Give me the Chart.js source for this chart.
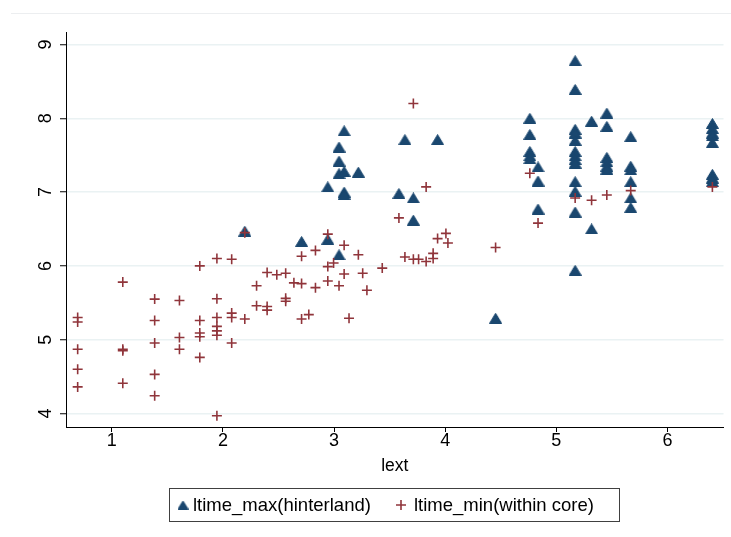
<!DOCTYPE html>
<html><head><meta charset="utf-8">
<script src="https://cdn.jsdelivr.net/npm/chart.js@4/dist/chart.umd.min.js"></script>
<style>html,body{margin:0;padding:0;background:#fff}canvas{display:block}</style>
</head><body>
<canvas id="c" width="731" height="537"></canvas>
<script>
const xTicks = [1, 2, 3, 4, 5, 6];
const yTicks = [4, 5, 6, 7, 8, 9];
const seriesNames = ['ltime_max(hinterland)', 'ltime_min(within core)'];
const xTitle = 'lext';

const hinterlandX = [2.197, 2.708, 2.944, 3.045, 2.944, 3.091, 3.045, 3.045, 3.045, 3.091, 3.219, 3.091, 3.091,
  3.584, 3.638, 3.714, 3.714, 3.932, 4.454,
  4.762, 4.762, 4.762, 4.762, 4.762, 4.836, 4.836, 4.836,
  5.170, 5.170, 5.170, 5.170, 5.170, 5.170, 5.170, 5.170, 5.170, 5.170, 5.170, 5.170, 5.170,
  5.318, 5.318, 5.455, 5.455, 5.455, 5.455, 5.455, 5.455,
  5.670, 5.670, 5.670, 5.670, 5.670, 5.670,
  6.405, 6.405, 6.405, 6.405, 6.405, 6.405, 6.405, 6.405];
const hinterlandY = [6.47, 6.33, 6.36, 6.15, 7.07, 7.83, 7.61, 7.42, 7.25, 7.28, 7.27, 7.00, 6.97,
  6.98, 7.71, 6.92, 6.62, 7.71, 5.29,
  8.00, 7.78, 7.55, 7.49, 7.45, 7.34, 7.15, 6.77,
  8.78, 8.39, 7.85, 7.80, 7.70, 7.55, 7.49, 7.44, 7.39, 7.14, 7.01, 6.73, 5.94,
  7.96, 6.50, 8.07, 7.89, 7.47, 7.41, 7.35, 7.31,
  7.75, 7.35, 7.30, 7.14, 6.92, 6.79,
  7.93, 7.86, 7.80, 7.76, 7.67, 7.24, 7.19, 7.14];

const coreX = [0.693, 0.693, 0.693, 0.693, 0.693,
  1.099, 1.099, 1.099, 1.099,
  1.386, 1.386, 1.386, 1.386, 1.386,
  1.609, 1.609, 1.609,
  1.792, 1.792, 1.792, 1.792, 1.792,
  1.946, 1.946, 1.946, 1.946, 1.946, 1.946, 1.946,
  2.079, 2.079, 2.079, 2.079,
  2.197, 2.197, 2.303, 2.303, 2.398, 2.398, 2.398, 2.485,
  2.565, 2.565, 2.565, 2.639, 2.708, 2.708, 2.708, 2.773, 2.833, 2.833,
  2.944, 2.944, 2.944, 2.996, 3.045, 3.091, 3.091, 3.135, 3.219, 3.258, 3.296, 3.434,
  3.584, 3.638, 3.714, 3.714, 3.761, 3.829, 3.829, 3.892, 3.892, 3.932, 4.007, 4.025,
  4.454, 4.762, 4.836, 5.170, 5.318, 5.455, 5.670, 6.405];
const coreY = [5.30, 5.24, 4.87, 4.60, 4.36,
  5.78, 4.87, 4.85, 4.41,
  5.55, 5.26, 4.955, 4.53, 4.24,
  5.53, 5.03, 4.87,
  6.00, 5.26, 5.09, 5.04, 4.76,
  6.10, 5.555, 5.30, 5.18, 5.12, 5.06, 3.97,
  6.09, 5.36, 5.30, 4.955,
  6.45, 5.28, 5.73, 5.46, 5.91, 5.45, 5.40, 5.88,
  5.90, 5.56, 5.52, 5.77, 6.13, 5.76, 5.28, 5.34, 6.21, 5.705,
  6.43, 5.99, 5.795, 6.04, 5.73, 6.28, 5.89, 5.29, 6.15, 5.90, 5.67, 5.97,
  6.65, 6.12, 8.20, 6.09, 6.09, 7.07, 6.06, 6.17, 6.10, 6.37, 6.44, 6.31,
  6.25, 7.255, 6.58, 6.92, 6.89, 6.96, 7.02, 7.07];

const NAVY = '#1a476f', MAROON = '#90353b', GRID = '#eaf2f3';
const FONT = '"Liberation Sans", Arial, sans-serif';

const toPts = (xs, ys) => xs.map((x, i) => ({x: x, y: ys[i]}));

function triangleMarker(w, h) {
  const c = document.createElement('canvas');
  c.width = w; c.height = h;
  const g = c.getContext('2d');
  g.fillStyle = NAVY;
  g.strokeStyle = NAVY;
  g.lineWidth = 1;
  g.beginPath();
  g.moveTo(0.5, h - 0.5);
  g.lineTo(w / 2, 0.5);
  g.lineTo(w - 0.5, h - 0.5);
  g.closePath();
  g.fill();
  g.stroke();
  return c;
}
const triBig = triangleMarker(13, 11);
const triSmall = triangleMarker(11, 9);

const stataPlugin = {
  id: 'stata',
  beforeDraw(chart) {
    const ctx = chart.ctx;
    ctx.save();
    ctx.fillStyle = '#fff';
    ctx.fillRect(0, 0, chart.width, chart.height);
    ctx.strokeStyle = '#eceef0';
    ctx.lineWidth = 1;
    ctx.beginPath();
    ctx.moveTo(11, 13.5); ctx.lineTo(chart.width, 13.5);
    ctx.stroke();
    ctx.restore();
  },
  afterDraw(chart) {
    const ctx = chart.ctx;
    const ys = chart.scales.y;
    ctx.save();
    ctx.fillStyle = '#000';
    ctx.font = '18px ' + FONT;
    ctx.textAlign = 'center';
    ctx.textBaseline = 'middle';
    yTicks.forEach(v => {
      const py = ys.getPixelForValue(v);
      ctx.save();
      ctx.translate(46, py);
      ctx.rotate(-Math.PI / 2);
      ctx.fillText(String(v), 0, 0);
      ctx.restore();
    });
    // legend
    const bx = 169.5, by = 488.5, bw = 450, bh = 33;
    ctx.fillStyle = '#fff';
    ctx.fillRect(bx, by, bw, bh);
    ctx.strokeStyle = '#404040';
    ctx.lineWidth = 1;
    ctx.strokeRect(bx, by, bw, bh);
    const cy = by + bh / 2;
    const ds = chart.data.datasets;
    // triangle series
    ctx.drawImage(triSmall, 183 - triSmall.width / 2, cy - triSmall.height / 2);
    // cross series
    ctx.strokeStyle = MAROON;
    ctx.lineWidth = ds[0].borderWidth;
    Chart.helpers.drawPoint(ctx, {pointStyle: 'cross', radius: 5, rotation: 0, borderWidth: ds[0].borderWidth}, 401, cy);
    ctx.fillStyle = '#000';
    ctx.font = '18.5px ' + FONT;
    ctx.textAlign = 'left';
    ctx.textBaseline = 'middle';
    ctx.fillText(ds[1].label, 193, cy + 1);
    ctx.fillText(ds[0].label, 414, cy + 1);
    ctx.restore();
  }
};

new Chart(document.getElementById('c'), {
  type: 'scatter',
  data: {
    datasets: [
      {
        label: seriesNames[1],
        data: toPts(coreX, coreY),
        pointStyle: 'cross',
        pointRadius: 5,
        borderColor: MAROON,
        backgroundColor: MAROON,
        borderWidth: 1.6,
        order: 1
      },
      {
        label: seriesNames[0],
        data: toPts(hinterlandX, hinterlandY),
        pointStyle: triBig,
        pointRadius: 6.5,
        borderColor: NAVY,
        backgroundColor: NAVY,
        borderWidth: 1,
        order: 2
      }
    ]
  },
  options: {
    responsive: false,
    devicePixelRatio: 1,
    animation: false,
    events: [],
    layout: {padding: {left: 0, right: 5, top: 32, bottom: 60}},
    plugins: {legend: {display: false}, tooltip: {enabled: false}},
    scales: {
      x: {
        type: 'linear',
        min: 0.588, max: 6.505,
        afterBuildTicks: s => { s.ticks = xTicks.map(v => ({value: v})); },
        afterFit: s => { s.height = 50; },
        grid: {drawOnChartArea: false, drawTicks: true, tickLength: 5, tickColor: '#000', tickWidth: 1},
        border: {display: true, color: '#000', width: 1},
        ticks: {color: '#000', font: {family: FONT, size: 18}, padding: -2, maxRotation: 0, autoSkip: false},
        title: {display: true, text: xTitle, color: '#000', font: {family: FONT, size: 17.5}, padding: {top: 0, bottom: 0}}
      },
      y: {
        type: 'linear',
        min: 3.817, max: 9.169,
        afterBuildTicks: s => { s.ticks = yTicks.map(v => ({value: v})); },
        afterFit: s => { s.width = 66; },
        grid: {color: GRID, lineWidth: 1.5, drawTicks: true, tickLength: 6, tickColor: '#000', tickWidth: 1},
        border: {display: true, color: '#000', width: 1},
        ticks: {display: false}
      }
    }
  },
  plugins: [stataPlugin]
});
</script>
</body></html>
